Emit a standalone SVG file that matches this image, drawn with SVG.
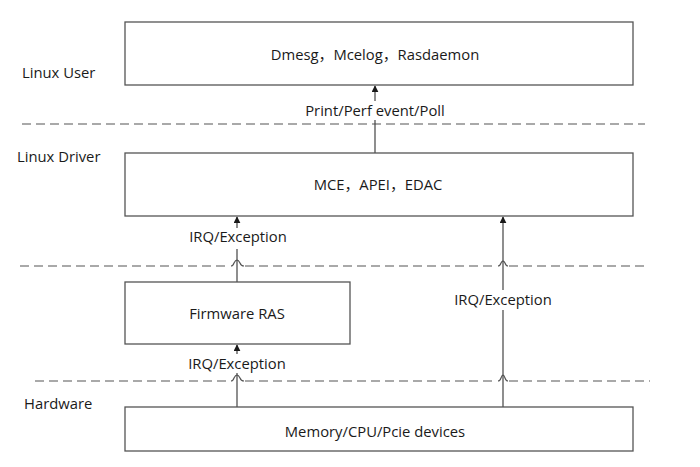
<svg xmlns="http://www.w3.org/2000/svg" width="700" height="467" viewBox="0 0 700 467">
<defs>
<style>
.box{fill:#fff;stroke:#555;stroke-width:1.3}
.t{font-family:"Open Sans","Noto Sans","Noto Sans CJK SC",sans-serif;font-size:14.8px;fill:#1a1a1a}
.c{text-anchor:middle}
.dash{fill:none;stroke:#555;stroke-width:1.2;stroke-dasharray:9 5}
.ln{fill:none;stroke:#444;stroke-width:1.2}
.hop{fill:none;stroke:#555;stroke-width:1.2}
</style>
<marker id="ah" viewBox="0 0 10 10" refX="9" refY="5" markerWidth="7" markerHeight="7" orient="auto" markerUnits="userSpaceOnUse">
<path d="M0,0 L10,5 L0,10 z" fill="#1a1a1a"/>
</marker>
</defs>
<rect width="700" height="467" fill="#fff"/>
<g id="layers">
<line class="dash" x1="22" y1="124" x2="645" y2="124"/>
<line class="dash" x1="20" y1="266" x2="230" y2="266"/>
<line class="dash" x1="245" y1="266" x2="497" y2="266"/>
<line class="dash" x1="509" y1="266" x2="645" y2="266"/>
<line class="dash" x1="35" y1="381" x2="230" y2="381"/>
<line class="dash" x1="245" y1="381" x2="497" y2="381"/>
<line class="dash" x1="509" y1="381" x2="650" y2="381"/>
<path class="hop" d="M231,266 Q233,266 234,263 Q237,257 240,263 Q241,266 244,266"/>
<path class="hop" d="M498,266 Q500,266 501,263 Q503,259 505,263 Q506,266 508,266"/>
<path class="hop" d="M231,381 Q233,381 234,378 Q237,372 240,378 Q241,381 244,381"/>
<path class="hop" d="M498,381 Q500,381 501,378 Q503,372 505,378 Q506,381 508,381"/>
<text class="t" x="22" y="78">Linux User</text>
<text class="t" x="17" y="162">Linux Driver</text>
<text class="t" x="24" y="409">Hardware</text>
</g>
<g id="connectors">
<line class="ln" x1="375" y1="153" x2="375" y2="120"/>
<line class="ln" x1="375" y1="101" x2="375" y2="86" marker-end="url(#ah)"/>
<text class="t c" x="375" y="116">Print/Perf event/Poll</text>
<line class="ln" x1="237" y1="282" x2="237" y2="249"/>
<line class="ln" x1="237" y1="228" x2="237" y2="217" marker-end="url(#ah)"/>
<text class="t c" x="238" y="242">IRQ/Exception</text>
<line class="ln" x1="503" y1="407" x2="503" y2="310"/>
<line class="ln" x1="503" y1="290" x2="503" y2="217" marker-end="url(#ah)"/>
<text class="t c" x="503" y="305">IRQ/Exception</text>
<line class="ln" x1="237" y1="407" x2="237" y2="373"/>
<line class="ln" x1="237" y1="354" x2="237" y2="345" marker-end="url(#ah)"/>
<text class="t c" x="237" y="369">IRQ/Exception</text>
</g>
<g id="user">
<rect class="box" x="125" y="22" width="508" height="63"/>
<text class="t c" x="375" y="60">Dmesg，Mcelog，Rasdaemon</text>
</g>
<g id="driver">
<rect class="box" x="125" y="153" width="508" height="63"/>
<text class="t c" x="378" y="190">MCE，APEI，EDAC</text>
</g>
<g id="firmware">
<rect class="box" x="125" y="282" width="225" height="62"/>
<text class="t c" x="237" y="319">Firmware RAS</text>
</g>
<g id="hardware">
<rect class="box" x="125" y="407" width="508" height="44"/>
<text class="t c" x="375" y="437">Memory/CPU/Pcie devices</text>
</g>
</svg>
